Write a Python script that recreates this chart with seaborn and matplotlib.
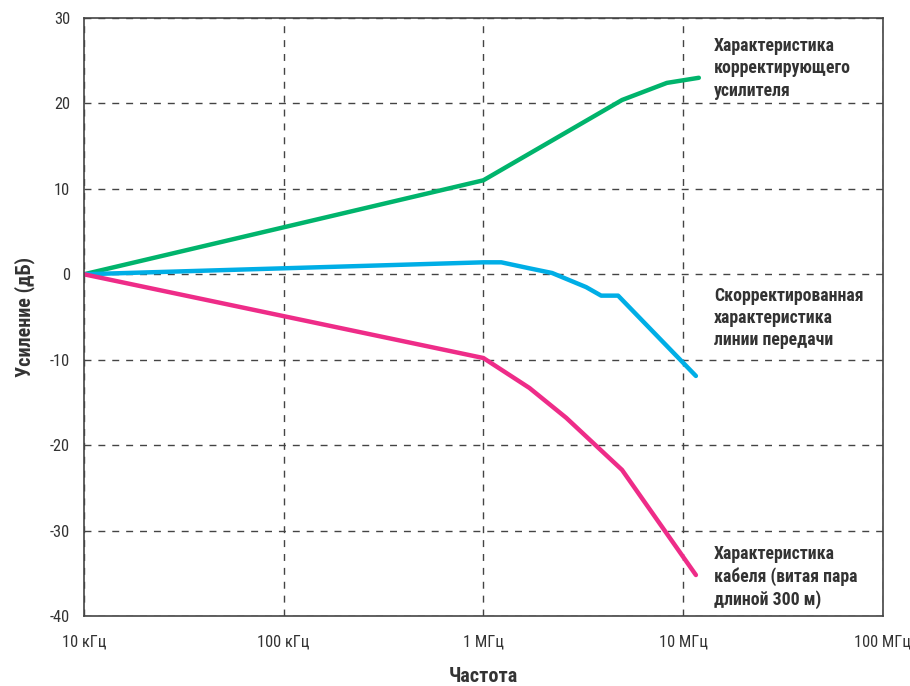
import numpy as np
import pandas as pd
import matplotlib
matplotlib.use('Agg')
import matplotlib.pyplot as plt
import seaborn as sns
from matplotlib.ticker import FixedLocator, NullLocator

# data (frequency in Hz, gain in dB)
amp_freq = [1e4, 1.0e6, 4.95e6, 8.3e6, 1.2e7]
amp_gain = [0.0, 11.0, 20.4, 22.4, 23.0]

line_freq = [1e4, 1.0e6, 1.23e6, 1.7e6, 2.21e6, 3.27e6, 3.89e6, 4.73e6, 1.16e7]
line_gain = [0.0, 1.4, 1.4, 0.7, 0.15, -1.5, -2.5, -2.5, -11.9]

cable_freq = [1e4, 1.0e6, 1.7e6, 2.6e6, 4.95e6, 1.16e7]
cable_gain = [0.0, -9.8, -13.3, -16.8, -22.9, -35.2]

x_ticks = [1e4, 1e5, 1e6, 1e7, 1e8]
x_labels = ['10 кГц', '100 кГц', '1 МГц', '10 МГц', '100 МГц']
y_ticks = [-40, -30, -20, -10, 0, 10, 20, 30]

labels = ['Характеристика\nкорректирующего\nусилителя',
          'Скорректированная\nхарактеристика\nлинии передачи',
          'Характеристика\nкабеля (витая пара\nдлиной 300 м)']
label_y = [24.1, -5.1, -35.4]

sns.set_style('white')
plt.rcParams['font.family'] = ['Roboto Condensed', 'Liberation Sans Narrow', 'Roboto', 'DejaVu Sans']

fig = plt.figure(figsize=(9.1, 6.86), dpi=100)
ax = fig.add_axes([0.0923, 0.102, 0.8777, 0.8718])

green = '#00b46c'
blue = '#00aee6'
pink = '#ee2c88'

sns.lineplot(x=amp_freq, y=amp_gain, ax=ax, color=green, lw=3.2, sort=False)
sns.lineplot(x=line_freq, y=line_gain, ax=ax, color=blue, lw=3.2, sort=False)
sns.lineplot(x=cable_freq, y=cable_gain, ax=ax, color=pink, lw=3.2, sort=False)

ax.set_xscale('log')
ax.set_xlim(1e4, 1e8)
ax.set_ylim(-40, 30)
ax.xaxis.set_major_locator(FixedLocator(x_ticks))
ax.xaxis.set_minor_locator(NullLocator())
ax.set_xticks(x_ticks)
ax.set_xticklabels(x_labels)
ax.set_yticks(y_ticks)
ax.set_yticklabels([str(v) for v in y_ticks])
ax.tick_params(axis='both', length=0, labelsize=11.8, colors='#333333')
ax.tick_params(axis='x', pad=13)
ax.tick_params(axis='y', pad=10)

ax.grid(True, color='#444444', linestyle=(0, (5, 5)), linewidth=1)
for s in ax.spines.values():
    s.set_color('#444444')
    s.set_linewidth(1.2)

ax.set_xlabel('Частота', fontsize=14.5, fontweight='bold', color='#333333', labelpad=13)
ax.set_ylabel('Усиление (дБ)', fontsize=14.5, fontweight='bold', color='#333333', labelpad=11)

for txt, yv in zip(labels, label_y):
    ax.text(1.43e7, yv, txt, fontsize=12.8, fontweight='bold', color='#333333',
            va='center', ha='left', linespacing=1.3)

plt.savefig('out.png', dpi=100)
